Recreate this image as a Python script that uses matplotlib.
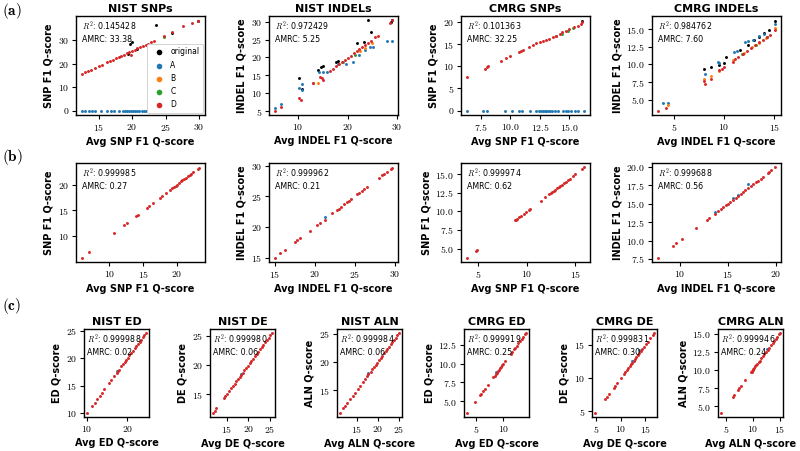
import numpy as np
import matplotlib.pyplot as plt
from matplotlib.ticker import FuncFormatter

# ================================================================
# Q-score agreement: per-tool scores vs averaged scores
# rows: (a) raw, (b) corrected, (c) ED / DE / ALN
# ================================================================

plt.rcParams['mathtext.fontset'] = 'cm'
plt.rcParams['font.family'] = 'DejaVu Sans'

COLORS = {'original': 'black', 'A': '#1f77b4', 'B': '#ff7f0e',
          'C': '#2ca02c', 'D': '#d62728'}

# ---------------- row (a) ----------------
a1_orig_x = [19.4, 19.65, 20.0, 20.7, 23.5, 25.9, 29.8]
a1_orig_y = [24.0, 28.3, 29.0, 26.1, 36.5, 32.9, 38.3]
a1_A_x = [12.5, 13.0, 13.5, 14.0, 14.5, 15.3, 16.2, 16.8, 17.3, 18.0, 18.6, 19.0,
          19.3, 19.6, 19.9, 20.2, 20.5, 20.8, 21.1, 21.4, 21.7, 22.0, 22.3, 22.6,
          23.0, 23.5, 24.0, 25.0, 26.0, 27.0, 28.0, 29.0, 30.0]
a1_A_y = np.zeros(len(a1_A_x))
a1_B_x, a1_B_y = [], []
a1_C_x, a1_C_y = [24.7], [31.3]
a1_D_x = [12.5, 13.0, 13.4, 13.8, 14.5, 15.0, 15.5, 16.3, 16.7, 17.2, 17.6, 18.0,
          18.4, 18.8, 19.2, 19.6, 19.9, 20.0, 20.4, 20.8, 21.2, 21.6, 22.0, 22.4,
          22.5, 22.8, 23.2, 24.7, 26.0, 27.6, 29.0, 29.8]
a1_D_y = [15.5, 16.2, 16.7, 17.2, 18.2, 18.8, 19.5, 20.5, 21.0, 21.7, 22.2, 22.7,
          23.3, 23.8, 24.3, 24.8, 23.5, 25.4, 25.9, 26.4, 26.9, 27.5, 28.0, 28.5,
          24.9, 29.0, 29.5, 31.5, 33.2, 36.1, 37.1, 38.0]

a2_orig_x = [10.2, 10.8, 14.1, 14.6, 15.1, 17.7, 18.0, 22.0, 23.3, 24.1, 24.8, 28.7, 29.0]
a2_orig_y = [14.2, 11.1, 16.5, 17.3, 17.5, 18.7, 19.1, 24.0, 24.3, 30.3, 27.2, 29.9, 30.3]
a2_A_x = [5.3, 6.5, 10.2, 10.7, 10.8, 14.3, 15.1, 15.8, 18.0, 19.7, 21.0, 22.3,
          23.6, 24.6, 25.2, 28.0, 28.9]
a2_A_y = [5.9, 6.9, 11.4, 10.8, 12.7, 15.8, 16.0, 16.0, 18.3, 18.2, 18.7, 20.6,
          22.0, 22.9, 22.9, 24.6, 24.6]
a2_B_x = [13.1, 14.1, 22.5, 23.5, 25.0]
a2_B_y = [13.0, 13.0, 21.8, 22.6, 24.0]
a2_C_x = [19.0, 21.5]
a2_C_y = [18.7, 20.8]
a2_D_x = [5.3, 6.5, 10.2, 10.5, 13.1, 14.4, 14.8, 15.0, 16.4, 17.0, 17.6, 18.2,
          18.8, 19.4, 20.0, 20.6, 21.2, 21.8, 22.4, 23.0, 23.6, 24.2, 24.8, 25.5,
          26.2, 28.5, 29.0]
a2_D_y = [5.2, 6.1, 8.8, 8.0, 13.0, 14.6, 14.2, 13.7, 16.3, 16.9, 17.5, 18.1,
          18.7, 19.3, 19.9, 20.5, 21.1, 21.7, 22.3, 22.9, 23.5, 24.1, 24.7, 25.6,
          25.9, 29.7, 30.3]

a3_orig_x, a3_orig_y = [16.1], [20.4]
a3_A_x = [6.3, 7.7, 8.0, 9.5, 10.1, 10.75, 11.0, 11.65, 12.2, 12.4, 12.6, 12.8, 12.9,
          13.05, 13.2, 13.35, 13.5, 13.75, 14.0, 14.45, 14.7, 14.9, 15.15, 15.45,
          15.7, 16.25]
a3_A_y = np.zeros(len(a3_A_x))
a3_B_x, a3_B_y = [], []
a3_C_x = [13.9, 14.4, 14.9, 15.3]
a3_C_y = [16.8, 17.4, 18.1, 18.6]
a3_D_x = [6.3, 7.8, 8.0, 8.1, 9.2, 9.6, 10.0, 10.7, 10.9, 11.1, 11.6, 11.9, 12.2,
          12.5, 12.8, 13.0, 13.3, 13.6, 13.9, 14.2, 14.4, 14.7, 15.0, 15.4, 15.7,
          16.0, 16.1]
a3_D_y = [7.7, 9.5, 9.8, 10.0, 11.2, 11.8, 12.3, 13.2, 13.4, 13.7, 14.5, 14.8, 15.2,
          15.5, 15.8, 16.0, 16.3, 16.6, 17.0, 17.3, 17.7, 18.1, 18.5, 18.9, 19.2,
          19.6, 20.0]

a4_orig_x = [8.0, 8.7, 9.5, 10.0, 10.2, 11.6, 12.4, 13.0, 13.5, 14.0, 14.5, 15.1]
a4_orig_y = [9.4, 9.7, 9.9, 10.2, 11.0, 12.1, 12.7, 13.4, 13.9, 14.5, 14.8, 16.2]
a4_A_x = [3.9, 4.4, 8.1, 9.35, 9.5, 11.0, 11.3, 12.1, 12.4, 12.9, 13.5, 14.0, 15.1]
a4_A_y = [4.5, 4.6, 8.7, 10.4, 10.2, 11.7, 11.9, 13.1, 13.3, 13.5, 14.0, 14.3, 15.7]
a4_B_x = [4.4, 8.0, 8.7, 9.5, 10.9, 12.0, 12.8, 13.5, 14.2, 15.1]
a4_B_y = [4.3, 8.0, 8.4, 9.1, 10.6, 11.6, 12.4, 13.0, 13.8, 15.1]
a4_C_x = [11.8, 13.2, 14.3]
a4_C_y = [11.5, 12.8, 13.9]
a4_D_x = [3.4, 4.2, 8.0, 8.1, 8.7, 9.5, 9.8, 10.0, 10.9, 11.1, 11.4, 11.9, 12.3,
          12.7, 13.1, 13.5, 13.9, 14.3, 14.6, 15.1]
a4_D_y = [3.5, 3.9, 7.7, 7.2, 8.0, 9.2, 9.4, 9.7, 10.4, 10.7, 11.1, 11.5, 11.9,
          12.3, 12.7, 13.1, 13.5, 13.9, 14.2, 14.9]

# ---------------- row (b) ----------------
b1_x = [5.9, 6.9, 10.7, 12.1, 12.6, 14.0, 14.2, 15.5, 15.9, 16.4, 17.5, 17.8, 18.4,
        19.0, 19.3, 19.6, 19.8, 20.0, 20.3, 20.6, 20.8, 21.1, 21.3, 21.6, 21.9,
        22.1, 22.4, 23.1, 23.3]
b1_y = [5.9, 6.9, 10.7, 12.1, 12.6, 14.0, 14.2, 15.5, 15.9, 16.4, 17.5, 17.8, 18.4,
        19.0, 19.3, 19.6, 19.8, 20.0, 20.3, 20.6, 20.8, 21.1, 21.3, 21.6, 21.9,
        22.1, 22.4, 23.1, 23.3]
b1_A_x, b1_A_y = [], []

b2_x = [15.0, 15.7, 16.3, 17.5, 17.8, 18.2, 19.4, 20.3, 20.6, 21.3, 22.2, 22.8, 23.0,
        23.3, 23.7, 24.0, 24.3, 24.5, 25.3, 25.6, 25.9, 26.2, 26.5, 28.0, 28.4,
        28.7, 29.0, 29.5, 29.7]
b2_y = [15.0, 15.7, 16.3, 17.5, 17.8, 18.2, 19.4, 20.3, 20.6, 21.2, 22.2, 22.8, 23.0,
        23.3, 23.7, 24.0, 24.3, 24.5, 25.3, 25.6, 25.9, 26.2, 26.5, 28.0, 28.4,
        28.7, 29.0, 29.5, 29.7]
b2_A_x, b2_A_y = [21.3], [21.6]

b3_x = [3.8, 4.7, 4.8, 8.8, 8.9, 9.0, 9.2, 9.4, 9.7, 9.9, 10.2, 10.3, 11.4, 11.9,
        12.3, 12.5, 12.6, 12.8, 12.9, 13.1, 13.3, 13.4, 13.6, 13.8, 14.0, 14.2,
        14.4, 14.7, 15.0, 15.7, 15.9]
b3_y = [3.8, 4.7, 4.8, 8.8, 8.9, 9.0, 9.2, 9.4, 9.7, 9.9, 10.2, 10.3, 11.4, 11.9,
        12.3, 12.5, 12.6, 12.8, 12.9, 13.1, 13.3, 13.4, 13.6, 13.8, 14.0, 14.2,
        14.4, 14.7, 15.0, 15.7, 15.9]
b3_A_x, b3_A_y = [], []

b4_x = [7.7, 9.3, 9.6, 10.2, 11.7, 12.8, 13.0, 13.6, 14.0, 14.3, 14.5, 14.8, 15.0,
        15.2, 15.5, 15.8, 16.0, 16.3, 16.6, 16.8, 17.1, 17.4, 17.6, 17.9, 18.1,
        18.4, 18.6, 19.2, 19.3, 19.5, 19.9]
b4_y = [7.7, 9.3, 9.6, 10.2, 11.7, 12.8, 13.0, 13.6, 14.0, 14.3, 14.5, 14.8, 15.0,
        15.2, 15.5, 15.8, 16.0, 16.3, 16.6, 16.8, 17.1, 17.4, 17.6, 17.9, 18.1,
        18.4, 18.6, 19.2, 19.3, 19.5, 19.9]
b4_A_x, b4_A_y = [13.6, 15.5, 16.0, 17.1], [13.8, 15.7, 16.2, 17.7]

# ---------------- row (c) ----------------
c1_x = [10.0, 11.3, 11.9, 12.5, 13.1, 13.7, 14.3, 15.5, 16.0, 16.7, 17.3, 17.6, 17.9,
        18.5, 18.9, 19.3, 19.7, 20.1, 20.5, 21.0, 21.4, 21.8, 22.2, 22.6, 23.0,
        23.4, 23.8, 24.2, 24.6]
c1_y = [10.0, 11.3, 11.9, 12.5, 13.1, 13.7, 14.3, 15.5, 16.0, 16.7, 17.3, 17.6, 17.9,
        18.5, 18.9, 19.3, 19.7, 20.1, 20.5, 21.0, 21.4, 21.8, 22.2, 22.6, 23.0,
        23.4, 23.8, 24.2, 24.6]
c1_A_x, c1_A_y = [17.5], [17.7]

c2_x = [11.8, 12.2, 12.6, 14.3, 14.7, 15.1, 15.6, 16.0, 16.4, 16.8, 17.2, 17.6, 18.0,
        18.3, 18.7, 19.1, 19.5, 19.9, 20.3, 20.7, 21.1, 21.5, 21.9, 22.3, 22.7,
        23.1, 23.5, 23.9, 24.3, 24.7, 25.1, 25.5]
c2_y = [11.8, 12.2, 12.6, 14.3, 14.7, 15.1, 15.6, 16.0, 16.4, 16.8, 17.2, 17.6, 18.0,
        18.3, 18.7, 19.1, 19.5, 19.9, 20.3, 20.7, 21.1, 21.5, 21.9, 22.3, 22.7,
        23.1, 23.5, 23.9, 24.3, 24.7, 25.1, 25.5]
c2_A_x, c2_A_y = [18.2], [18.4]

c3_x = [11.0, 11.8, 12.3, 12.8, 13.5, 14.0, 14.6, 15.2, 15.8, 16.4, 17.0, 17.5, 17.8,
        18.3, 18.7, 19.1, 19.5, 19.9, 20.3, 20.7, 21.1, 21.5, 21.9, 22.3, 22.7,
        23.1, 23.5, 23.9, 24.3, 24.7, 25.1]
c3_y = [11.0, 11.8, 12.3, 12.8, 13.5, 14.0, 14.6, 15.2, 15.8, 16.4, 17.0, 17.5, 17.8,
        18.3, 18.7, 19.1, 19.5, 19.9, 20.3, 20.7, 21.1, 21.5, 21.9, 22.3, 22.7,
        23.1, 23.5, 23.9, 24.3, 24.7, 25.1]
c3_A_x, c3_A_y = [17.8], [18.1]

c4_x = [3.4, 4.9, 5.8, 6.0, 6.3, 6.6, 7.2, 8.2, 8.4, 8.6, 8.8, 9.0, 9.2, 9.4, 9.6,
        9.8, 10.0, 10.3, 11.3, 11.6, 11.9, 12.1, 12.4, 12.7, 13.0, 13.3, 13.6,
        13.9, 14.1]
c4_y = [3.4, 4.9, 5.8, 6.0, 6.3, 6.6, 7.2, 8.2, 8.4, 8.6, 8.8, 9.0, 9.2, 9.4, 9.6,
        9.8, 10.0, 10.3, 11.3, 11.6, 11.9, 12.1, 12.4, 12.7, 13.0, 13.3, 13.6,
        13.9, 14.1]
c4_A_x, c4_A_y = [8.7], [8.9]

c5_x = [4.7, 6.8, 7.1, 7.6, 8.5, 8.8, 9.3, 10.0, 10.6, 10.9, 11.2, 11.5, 11.8, 12.1,
        12.3, 12.6, 12.9, 13.2, 13.5, 13.8, 14.1, 14.4, 14.7, 15.1, 15.5, 16.0,
        16.5, 16.8]
c5_y = [4.7, 6.8, 7.1, 7.6, 8.5, 8.8, 9.3, 10.0, 10.6, 10.9, 11.2, 11.5, 11.8, 12.1,
        12.3, 12.6, 12.9, 13.2, 13.5, 13.8, 14.1, 14.4, 14.7, 15.1, 15.5, 16.0,
        16.5, 16.8]
c5_A_x, c5_A_y = [12.2, 13.8], [12.5, 14.2]

c6_x = [4.1, 6.3, 6.6, 7.2, 7.5, 7.8, 8.6, 9.7, 9.8, 9.9, 10.0, 10.1, 10.3, 10.5,
        10.7, 10.9, 11.1, 11.3, 11.6, 11.9, 12.2, 12.5, 12.8, 13.1, 13.4, 13.7,
        14.0, 14.3, 14.6, 14.9, 15.1]
c6_y = [4.1, 6.3, 6.6, 7.2, 7.5, 7.8, 8.6, 9.7, 9.8, 9.9, 10.0, 10.1, 10.3, 10.5,
        10.7, 10.9, 11.1, 11.3, 11.6, 11.9, 12.2, 12.5, 12.8, 13.1, 13.4, 13.7,
        14.0, 14.3, 14.6, 14.9, 15.1]
c6_A_x, c6_A_y = [12.7], [12.9]

# ---------------- text ----------------
a_titles = ['NIST SNPs', 'NIST INDELs', 'CMRG SNPs', 'CMRG INDELs']
ab_xlabels = ['Avg SNP F1 Q-score', 'Avg INDEL F1 Q-score', 'Avg SNP F1 Q-score', 'Avg INDEL F1 Q-score']
ab_ylabels = ['SNP F1 Q-score', 'INDEL F1 Q-score', 'SNP F1 Q-score', 'INDEL F1 Q-score']
c_titles = ['NIST ED', 'NIST DE', 'NIST ALN', 'CMRG ED', 'CMRG DE', 'CMRG ALN']
c_metrics = ['ED', 'DE', 'ALN', 'ED', 'DE', 'ALN']

a_r2 = ['0.145428', '0.972429', '0.101363', '0.984762']
a_amrc = ['33.38', '5.25', '32.25', '7.60']
b_r2 = ['0.999985', '0.999962', '0.999974', '0.999688']
b_amrc = ['0.27', '0.21', '0.62', '0.56']
c_r2 = ['0.999988', '0.999980', '0.999984', '0.999919', '0.999831', '0.999946']
c_amrc = ['0.02', '0.06', '0.06', '0.25', '0.30', '0.24']

a_xticks = [[15, 20, 25, 30], [10, 20, 30], [7.5, 10.0, 12.5, 15.0], [5, 10, 15]]
a_yticks = [[0, 10, 20, 30], [5, 10, 15, 20, 25, 30], [0, 5, 10, 15, 20],
            [5.0, 7.5, 10.0, 12.5, 15.0]]
b_xticks = [[10, 15, 20], [15, 20, 25, 30], [5, 10, 15], [10, 15, 20]]
b_yticks = [[10, 15, 20], [15, 20, 25, 30], [5.0, 7.5, 10.0, 12.5, 15.0],
            [7.5, 10.0, 12.5, 15.0, 17.5, 20.0]]
c_xticks = [[10, 20], [15, 20, 25], [15, 20, 25], [5, 10], [5, 10, 15], [5, 10, 15]]
c_yticks = [[10, 15, 20, 25], [15, 20, 25], [15, 20, 25], [5.0, 7.5, 10.0, 12.5],
            [5, 10, 15], [5.0, 7.5, 10.0, 12.5, 15.0]]

# ================================================================
W, H = 800, 451
fig = plt.figure(figsize=(W / 100, H / 100), dpi=100)


def px_axes(left, top, width, height):
    return fig.add_axes([left / W, 1 - (top + height) / H, width / W, height / H])


def fmt_ticks(ax, xt, yt):
    for axis, ticks in ((ax.xaxis, xt), (ax.yaxis, yt)):
        dec = 1 if any(float(t) != int(t) for t in ticks) else 0
        axis.set_ticks(ticks)
        axis.set_major_formatter(FuncFormatter(lambda v, p, d=dec: f'${v:.{d}f}$'))
    ax.tick_params(labelsize=7, length=3, width=0.8, pad=2)
    for s in ax.spines.values():
        s.set_linewidth(1.0)


def scatter_all(ax, series):
    handles = []
    for name, xs, ys in series:
        h = ax.scatter(xs, ys, s=4.5, color=COLORS[name], linewidths=0, label=name, zorder=3)
        handles.append(h)
    return handles


def stats_box(ax, r2, amrc):
    ax.text(0.05, 0.965, f'$R^2$: {r2}\nAMRC: {amrc}', transform=ax.transAxes,
            fontsize=5.7, va='top', ha='left', linespacing=1.45)


# row (a)
a_series = [
    [('original', a1_orig_x, a1_orig_y), ('A', a1_A_x, a1_A_y), ('B', a1_B_x, a1_B_y),
     ('C', a1_C_x, a1_C_y), ('D', a1_D_x, a1_D_y)],
    [('original', a2_orig_x, a2_orig_y), ('A', a2_A_x, a2_A_y), ('B', a2_B_x, a2_B_y),
     ('C', a2_C_x, a2_C_y), ('D', a2_D_x, a2_D_y)],
    [('original', a3_orig_x, a3_orig_y), ('A', a3_A_x, a3_A_y), ('B', a3_B_x, a3_B_y),
     ('C', a3_C_x, a3_C_y), ('D', a3_D_x, a3_D_y)],
    [('original', a4_orig_x, a4_orig_y), ('A', a4_A_x, a4_A_y), ('B', a4_B_x, a4_B_y),
     ('C', a4_C_x, a4_C_y), ('D', a4_D_x, a4_D_y)],
]
col_left = [76, 269, 461, 652]
for i in range(4):
    ax = px_axes(col_left[i], 16, 129, 99)
    hs = scatter_all(ax, a_series[i])
    ax.set_title(a_titles[i], fontsize=8, fontweight='bold', pad=3)
    ax.set_xlabel(ab_xlabels[i], fontsize=7, fontweight='bold', labelpad=3)
    ax.set_ylabel(ab_ylabels[i], fontsize=7, fontweight='bold', labelpad=3)
    fmt_ticks(ax, a_xticks[i], a_yticks[i])
    stats_box(ax, a_r2[i], a_amrc[i])
    if i == 0:
        leg = ax.legend(handles=hs, loc='lower right', fontsize=5.5, markerscale=1.9,
                        borderaxespad=0.25, labelspacing=0.55, handletextpad=0.5,
                        borderpad=0.5, framealpha=1.0)
        leg.get_frame().set_linewidth(0.6)
        leg.set_zorder(5)

# row (b)
b_series = [
    [('A', b1_A_x, b1_A_y), ('D', b1_x, b1_y)],
    [('A', b2_A_x, b2_A_y), ('D', b2_x, b2_y)],
    [('A', b3_A_x, b3_A_y), ('D', b3_x, b3_y)],
    [('A', b4_A_x, b4_A_y), ('D', b4_x, b4_y)],
]
for i in range(4):
    ax = px_axes(col_left[i], 163, 129, 99)
    scatter_all(ax, b_series[i])
    ax.set_xlabel(ab_xlabels[i], fontsize=7, fontweight='bold', labelpad=3)
    ax.set_ylabel(ab_ylabels[i], fontsize=7, fontweight='bold', labelpad=3)
    fmt_ticks(ax, b_xticks[i], b_yticks[i])
    stats_box(ax, b_r2[i], b_amrc[i])

# row (c)
c_series = [
    [('A', c1_A_x, c1_A_y), ('D', c1_x, c1_y)],
    [('A', c2_A_x, c2_A_y), ('D', c2_x, c2_y)],
    [('A', c3_A_x, c3_A_y), ('D', c3_x, c3_y)],
    [('A', c4_A_x, c4_A_y), ('D', c4_x, c4_y)],
    [('A', c5_A_x, c5_A_y), ('D', c5_x, c5_y)],
    [('A', c6_A_x, c6_A_y), ('D', c6_x, c6_y)],
]
c_left = [84, 210, 337, 464, 592, 718]
for i in range(6):
    ax = px_axes(c_left[i], 329, 65, 88)
    scatter_all(ax, c_series[i])
    ax.set_title(c_titles[i], fontsize=8, fontweight='bold', pad=3)
    ax.set_xlabel(f'Avg {c_metrics[i]} Q-score', fontsize=7, fontweight='bold', labelpad=3)
    ax.set_ylabel(f'{c_metrics[i]} Q-score', fontsize=7, fontweight='bold', labelpad=3)
    fmt_ticks(ax, c_xticks[i], c_yticks[i])
    stats_box(ax, c_r2[i], c_amrc[i])

# panel letters
for lab, y in (('(a)', 11), ('(b)', 157), ('(c)', 306)):
    fig.text(2 / W, 1 - y / H, r'$\mathbf{' + lab + '}$', fontsize=11, va='center', ha='left')

fig.savefig('out.png', dpi=100)
